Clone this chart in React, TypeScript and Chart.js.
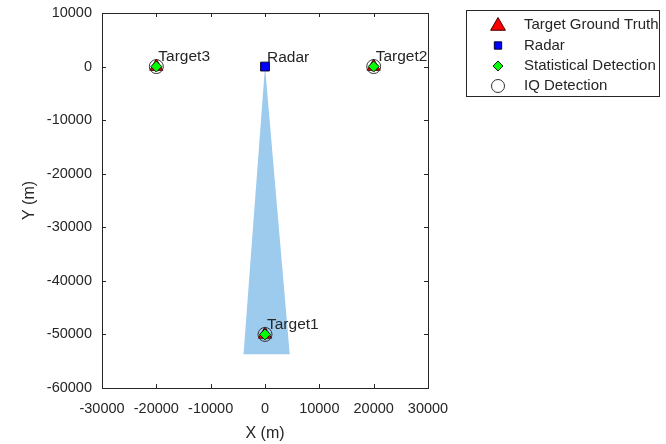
import React, { useEffect, useRef } from 'react';
import { Chart, registerables } from 'chart.js';

Chart.register(...registerables);

// ---- data ----
const xTickValues = [-30000, -20000, -10000, 0, 10000, 20000, 30000];
const yTickValues = [10000, 0, -10000, -20000, -30000, -40000, -50000, -60000];

const targetNames = ['Target1', 'Target2', 'Target3'];
const targetX = [0, 20000, -20000];
const targetY = [-50000, 0, 0];

const radarName = 'Radar';
const radarX = [0];
const radarY = [0];

const statDetX = [0, 20000, -20000];
const statDetY = [-50000, 0, 0];

const iqDetX = [0, 20000, -20000];
const iqDetY = [-50000, 0, 0];

const beamX = [0, -3950, 4550];
const beamY = [0, -53700, -53700];

const legendLabels = ['Target Ground Truth', 'Radar', 'Statistical Detection', 'IQ Detection'];

// ---- styles ----
const FONT = "'Liberation Sans', Arial, sans-serif";
const AXIS_COLOR = '#262626';
const BEAM_COLOR = '#9ccbee';

const toPts = (xs: number[], ys: number[]) => xs.map((x, i) => ({ x, y: ys[i] }));

type MarkerStyle = { style: string; radius: number; fill: string; stroke: string };
const markerStyles: MarkerStyle[] = [
  { style: 'triangle', radius: 7.5, fill: '#ff0000', stroke: '#400000' },
  { style: 'rect', radius: 6.2, fill: '#0000ff', stroke: '#000033' },
  { style: 'rectRot', radius: 5.5, fill: '#00ff00', stroke: '#1a1a1a' },
  { style: 'circle', radius: 7, fill: 'rgba(0,0,0,0)', stroke: '#333333' },
];
const legendMarkerRadius = [8.5, 5.2, 5, 6.5];

function drawMarker(ctx: CanvasRenderingContext2D, m: MarkerStyle, x: number, y: number) {
  const r = m.radius;
  ctx.beginPath();
  if (m.style === 'triangle') {
    ctx.moveTo(x, y - r);
    ctx.lineTo(x + Math.sin((2 * Math.PI) / 3) * r, y - Math.cos((2 * Math.PI) / 3) * r);
    ctx.lineTo(x + Math.sin((4 * Math.PI) / 3) * r, y - Math.cos((4 * Math.PI) / 3) * r);
    ctx.closePath();
  } else if (m.style === 'rect') {
    const s = Math.SQRT1_2 * r;
    ctx.rect(x - s, y - s, 2 * s, 2 * s);
  } else if (m.style === 'rectRot') {
    ctx.moveTo(x - r, y);
    ctx.lineTo(x, y - r);
    ctx.lineTo(x + r, y);
    ctx.lineTo(x, y + r);
    ctx.closePath();
  } else {
    ctx.arc(x, y, r, 0, Math.PI * 2);
  }
  ctx.fillStyle = m.fill;
  ctx.fill();
  ctx.lineWidth = 1;
  ctx.strokeStyle = m.stroke;
  ctx.stroke();
}

const overlayPlugin = {
  id: 'overlay',
  afterDatasetsDraw(chart: any) {
    const { ctx, scales } = chart;
    const xs = scales.x;
    const ys = scales.y;
    ctx.save();
    ctx.font = `15.5px ${FONT}`;
    ctx.fillStyle = AXIS_COLOR;
    ctx.textAlign = 'left';
    ctx.textBaseline = 'middle';
    targetNames.forEach((name, i) => {
      ctx.fillText(name, xs.getPixelForValue(targetX[i]) + 2, ys.getPixelForValue(targetY[i]) - 9.5);
    });
    ctx.fillText(radarName, xs.getPixelForValue(radarX[0]) + 2, ys.getPixelForValue(radarY[0]) - 9);
    ctx.restore();
  },
  afterDraw(chart: any) {
    const { ctx, chartArea, scales } = chart;
    const { left, right, top, bottom } = chartArea;
    ctx.save();
    ctx.strokeStyle = AXIS_COLOR;
    ctx.lineWidth = 1;
    // box
    ctx.strokeRect(Math.round(left) + 0.5, Math.round(top) + 0.5, Math.round(right - left), Math.round(bottom - top));
    // inward ticks
    const tl = 4;
    ctx.beginPath();
    scales.x.ticks.forEach((t: any) => {
      const px = Math.round(scales.x.getPixelForValue(t.value)) + 0.5;
      ctx.moveTo(px, bottom);
      ctx.lineTo(px, bottom - tl);
      ctx.moveTo(px, top);
      ctx.lineTo(px, top + tl);
    });
    scales.y.ticks.forEach((t: any) => {
      const py = Math.round(scales.y.getPixelForValue(t.value)) + 0.5;
      ctx.moveTo(left, py);
      ctx.lineTo(left + tl, py);
      ctx.moveTo(right, py);
      ctx.lineTo(right - tl, py);
    });
    ctx.stroke();

    // legend
    const lx = 466.5, ly = 10.5, lw = 193, lh = 86;
    ctx.fillStyle = '#ffffff';
    ctx.fillRect(lx, ly, lw, lh);
    ctx.strokeStyle = AXIS_COLOR;
    ctx.strokeRect(lx, ly, lw, lh);
    const rows = [25, 45.5, 66, 86];
    ctx.font = `15px ${FONT}`;
    ctx.textAlign = 'left';
    ctx.textBaseline = 'middle';
    legendLabels.forEach((label, i) => {
      const m = { ...markerStyles[i], radius: legendMarkerRadius[i] };
      drawMarker(ctx, m, 498, rows[i] + (i === 0 ? 1 : 0));
      ctx.fillStyle = AXIS_COLOR;
      ctx.fillText(label, 524, rows[i]);
    });
    ctx.restore();
  },
};

export default function App() {
  const canvasRef = useRef<HTMLCanvasElement | null>(null);

  useEffect(() => {
    const canvas = canvasRef.current;
    if (!canvas) return;
    const mk = (i: number) => ({
      pointStyle: markerStyles[i].style,
      pointRadius: markerStyles[i].radius,
      pointHoverRadius: markerStyles[i].radius,
      pointBackgroundColor: markerStyles[i].fill,
      pointBorderColor: markerStyles[i].stroke,
      pointBorderWidth: 1,
      showLine: false,
    });
    const chart = new Chart(canvas, {
      type: 'scatter',
      data: {
        datasets: [
          {
            label: 'Beam',
            data: toPts(beamX, beamY),
            showLine: true,
            fill: 'shape',
            backgroundColor: BEAM_COLOR,
            borderColor: 'rgba(0,0,0,0)',
            borderWidth: 0,
            pointRadius: 0,
            order: 5,
          } as any,
          { label: legendLabels[0], data: toPts(targetX, targetY), ...mk(0), order: 4 } as any,
          { label: legendLabels[1], data: toPts(radarX, radarY), ...mk(1), order: 3 } as any,
          { label: legendLabels[2], data: toPts(statDetX, statDetY), ...mk(2), order: 2 } as any,
          { label: legendLabels[3], data: toPts(iqDetX, iqDetY), ...mk(3), order: 1 } as any,
        ],
      },
      options: {
        responsive: false,
        animation: false,
        devicePixelRatio: 1,
        layout: { padding: { top: 13, right: 238, left: 0, bottom: 0 } },
        plugins: {
          legend: { display: false },
          tooltip: { enabled: false },
        },
        scales: {
          x: {
            type: 'linear',
            min: -30000,
            max: 30000,
            afterBuildTicks: (scale: any) => {
              scale.ticks = xTickValues.map((v) => ({ value: v }));
            },
            afterFit: (scale: any) => {
              scale.height = 56;
              scale.paddingLeft = 0;
              scale.paddingRight = 0;
            },
            grid: { display: false, drawTicks: false },
            border: { display: false },
            ticks: {
              autoSkip: false,
              maxRotation: 0,
              minRotation: 0,
              padding: 12,
              color: AXIS_COLOR,
              font: { family: FONT, size: 14.5 },
              callback: (v: any) => String(v),
            },
            title: {
              display: true,
              text: 'X (m)',
              color: AXIS_COLOR,
              font: { family: FONT, size: 16 },
              padding: { top: 0, bottom: 1 },
            },
          },
          y: {
            type: 'linear',
            min: -60000,
            max: 10000,
            afterBuildTicks: (scale: any) => {
              scale.ticks = yTickValues.map((v) => ({ value: v }));
            },
            afterFit: (scale: any) => {
              scale.width = 102;
              scale.paddingTop = 0;
              scale.paddingBottom = 0;
            },
            grid: { display: false, drawTicks: false },
            border: { display: false },
            ticks: {
              autoSkip: false,
              padding: 10,
              color: AXIS_COLOR,
              font: { family: FONT, size: 14.5 },
              callback: (v: any) => String(v),
            },
            title: {
              display: true,
              text: 'Y (m)',
              color: AXIS_COLOR,
              font: { family: FONT, size: 16 },
              padding: { top: 20, bottom: 0 },
            },
          },
        },
      } as any,
      plugins: [overlayPlugin],
    });
    return () => chart.destroy();
  }, []);

  return (
    <div style={{ position: 'absolute', left: 0, top: 0, width: 666, height: 444, background: '#ffffff' }}>
      <canvas ref={canvasRef} width={666} height={444} style={{ display: 'block', width: 666, height: 444 }} />
    </div>
  );
}
